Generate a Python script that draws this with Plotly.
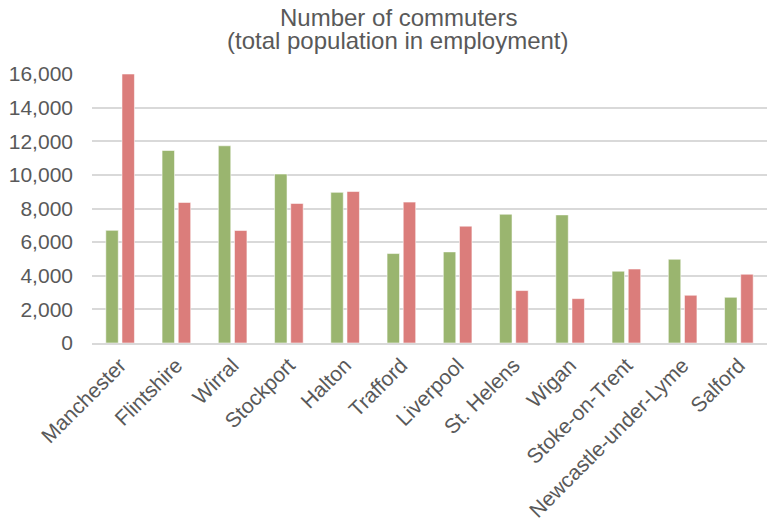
import plotly.graph_objects as go

# Commuter counts by local authority (total population in employment)
areas = ["Manchester", "Flintshire", "Wirral", "Stockport", "Halton", "Trafford",
         "Liverpool", "St. Helens", "Wigan", "Stoke-on-Trent",
         "Newcastle-under-Lyme", "Salford"]
series_a = [6700, 11450, 11730, 10050, 8960, 5320, 5420, 7660, 7620, 4270, 4980, 2720]
series_b = [16000, 8360, 6690, 8300, 9010, 8380, 6950, 3120, 2640, 4400, 2840, 4090]
y_ticks = [0, 2000, 4000, 6000, 8000, 10000, 12000, 14000, 16000]
title_lines = ["Number of commuters", "(total population in employment)"]

GREEN = "#9AB56F"
RED = "#DB7D7B"
TEXT = "#595959"
GRID = "#D9D9D9"
FONT = "Liberation Sans, Arial, sans-serif"

W, H = 768, 524
ML, MR, MT, MB = 92, 1, 74, 181

fig = go.Figure()
for vals, col in ((series_a, GREEN), (series_b, RED)):
    fig.add_trace(go.Bar(
        x=areas, y=vals,
        marker=dict(color=col, line=dict(color="rgba(255,255,255,0.55)", width=1)),
        showlegend=False, hoverinfo="x+y",
    ))

fig.update_layout(
    width=W, height=H,
    margin=dict(l=ML, r=MR, t=MT, b=MB, pad=0),
    paper_bgcolor="white", plot_bgcolor="white",
    barmode="group", bargap=0.425, bargroupgap=0.23,
    font=dict(family=FONT, color=TEXT, size=21),
)

# Two-line chart title, centred slightly right of the page middle
plot_w = W - ML - MR
plot_h = H - MT - MB
for text, cy in zip(title_lines, (17.5, 40.5)):
    fig.add_annotation(
        text=text, showarrow=False, xref="paper", yref="paper",
        x=(398 - ML) / plot_w, y=(H - MB - cy) / plot_h,
        xanchor="center", yanchor="middle",
        font=dict(family=FONT, size=24, color=TEXT),
    )

fig.update_xaxes(
    tickangle=-45, showgrid=False, showline=True, linecolor=GRID, linewidth=1.5,
    ticks="", tickfont=dict(family=FONT, size=21, color=TEXT),
    fixedrange=True,
)
fig.update_yaxes(
    range=[0, 16000], tickvals=y_ticks, tickformat=",d",
    showgrid=True, gridcolor=GRID, gridwidth=1.5, zeroline=False,
    showline=False, ticks="", ticklabelstandoff=18,
    tickfont=dict(family=FONT, size=21, color=TEXT),
    fixedrange=True,
)

fig.write_html("out.html", config={"displayModeBar": False})
